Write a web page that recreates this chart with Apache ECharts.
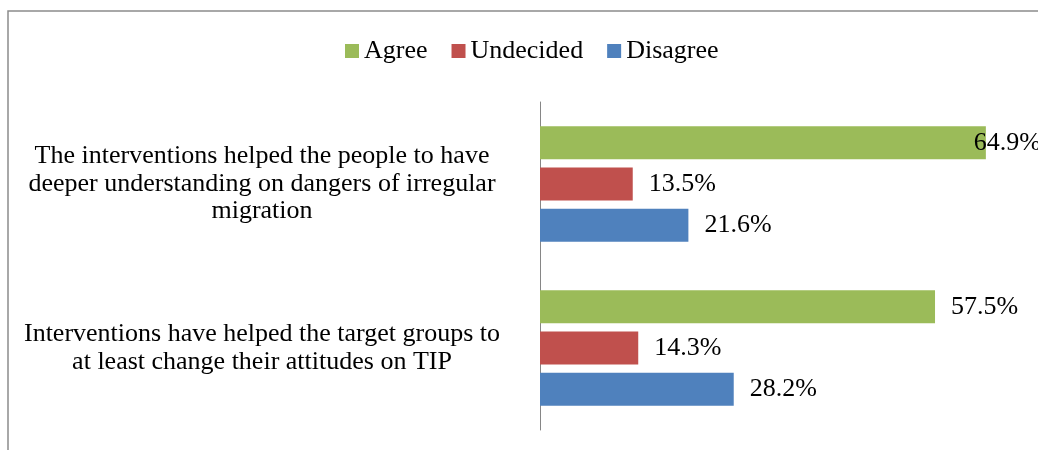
<!DOCTYPE html>
<html>
<head>
<meta charset="utf-8">
<style>
  html, body { margin: 0; padding: 0; background: #ffffff; }
  #chart { width: 1038px; height: 450px; }
</style>
<script src="https://cdn.jsdelivr.net/npm/echarts@6/dist/echarts.min.js"></script>
</head>
<body>
<div id="chart"></div>
<script>
// Survey statements (top to bottom) and response shares in percent
const statements = [
  'The interventions helped the people to have\ndeeper understanding on dangers of irregular\nmigration',
  'Interventions have helped the target groups to\nat least change their attitudes on TIP'
];
const seriesNames = ['Agree', 'Undecided', 'Disagree'];
const agree = [64.9, 57.5];
const undecided = [13.5, 14.3];
const disagree = [21.6, 28.2];

const colors = ['#9BBB59', '#C0504D', '#4F81BD'];
const font = '"Liberation Serif", "Times New Roman", serif';
const axisMax = 70;
const textSize = 26;

const chart = echarts.init(document.getElementById('chart'), null, { renderer: 'canvas' });

function makeSeries(name, values, color) {
  return {
    name: name,
    type: 'bar',
    barWidth: 33,
    barGap: '25%',
    itemStyle: { color: color },
    label: {
      show: true,
      position: 'right',
      distance: 16,
      fontFamily: font,
      fontSize: textSize,
      color: '#000',
      formatter: p => p.value.toFixed(1) + '%'
    },
    data: values.map(v => {
      // keep the label inside the frame when a bar nearly reaches the edge
      if (v > 62) {
        return { value: v, label: { offset: [-28, 0] } };
      }
      return v;
    })
  };
}

chart.setOption({
  animation: false,
  color: colors,
  graphic: [{
    type: 'rect',
    shape: { x: 8, y: 11, width: 1100, height: 500 },
    style: { fill: 'none', stroke: '#8c8c8c', lineWidth: 1.5 },
    silent: true
  }],
  legend: {
    data: seriesNames,
    left: 340,
    top: 33,
    itemWidth: 14,
    itemHeight: 14,
    itemGap: 24,
    icon: 'rect',
    textStyle: { fontFamily: font, fontSize: textSize, color: '#000' }
  },
  grid: {
    left: 540, top: 102, width: axisMax * 6.87, height: 328,
    containLabel: false, outerBoundsMode: 'none'
  },
  xAxis: {
    type: 'value',
    min: 0,
    max: axisMax,
    show: false
  },
  yAxis: {
    type: 'category',
    inverse: true,
    data: statements,
    axisLine: { show: true, lineStyle: { color: '#868686', width: 1 } },
    axisTick: { show: false },
    axisLabel: {
      align: 'center',
      margin: 278,
      padding: [6, 0, 0, 0],
      fontFamily: font,
      fontSize: textSize,
      lineHeight: 27.5,
      color: '#000'
    }
  },
  series: [
    makeSeries(seriesNames[0], agree, colors[0]),
    makeSeries(seriesNames[1], undecided, colors[1]),
    makeSeries(seriesNames[2], disagree, colors[2])
  ]
});
</script>
</body>
</html>
